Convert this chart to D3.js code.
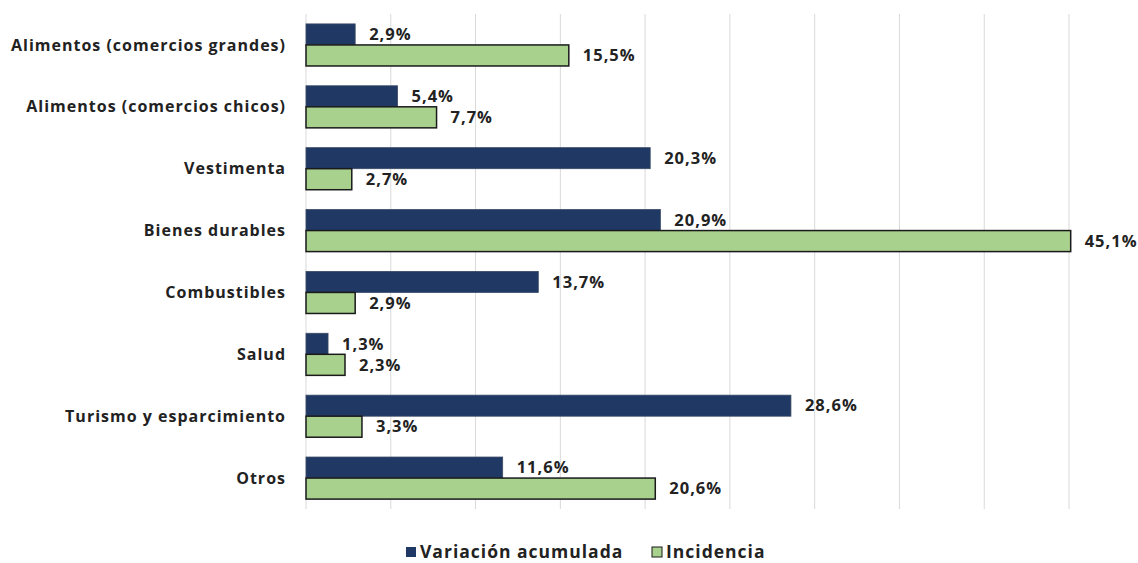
<!DOCTYPE html>
<html>
<head>
<meta charset="utf-8">
<script src="https://cdn.jsdelivr.net/npm/d3@7"></script>
<style>
  body { margin: 0; background: #fff; }
  text { font-family: "Open Sans", Arial, sans-serif; font-weight: bold; fill: #222; letter-spacing: 1px; }
</style>
</head>
<body>
<div id="chart"></div>
<script>
// categories and series values (percent)
var categories = [
  "Alimentos (comercios grandes)",
  "Alimentos (comercios chicos)",
  "Vestimenta",
  "Bienes durables",
  "Combustibles",
  "Salud",
  "Turismo y esparcimiento",
  "Otros"
];
var variacion = [2.9, 5.4, 20.3, 20.9, 13.7, 1.3, 28.6, 11.6];
var incidencia = [15.5, 7.7, 2.7, 45.1, 2.9, 2.3, 3.3, 20.6];
var seriesNames = ["Variación acumulada", "Incidencia"];
var gridTicks = [0, 5, 10, 15, 20, 25, 30, 35, 40, 45];

var W = 1138, H = 563;
var margin = { top: 14, right: 69, bottom: 54, left: 306 };
var width = W - margin.left - margin.right,
  height = H - margin.top - margin.bottom;

var colors = { "Variación acumulada": "#203864", "Incidencia": "#a9d18e" };

var svg = d3.select("#chart").append("svg")
  .attr("width", W).attr("height", H);
var g = svg.append("g")
  .attr("transform", "translate(" + margin.left + "," + margin.top + ")");

var x = d3.scaleLinear().domain([0, 45]).range([0, width]);
var y = d3.scaleBand().domain(categories).range([0, height]).paddingInner(0.32).paddingOuter(0.16);
var ySub = d3.scaleBand().domain(seriesNames).range([0, y.bandwidth()]);

// gridlines
g.selectAll(".grid").data(gridTicks).enter().append("line")
  .attr("x1", function (d) { return x(d); })
  .attr("x2", function (d) { return x(d); })
  .attr("y1", 0).attr("y2", height)
  .attr("stroke", "#d9d9d9").attr("stroke-width", 1);

var data = categories.map(function (c, i) {
  return { cat: c, vals: [
    { s: "Variación acumulada", v: variacion[i] },
    { s: "Incidencia", v: incidencia[i] }
  ] };
});

var groups = g.selectAll(".grp").data(data).enter().append("g")
  .attr("transform", function (d) { return "translate(0," + y(d.cat) + ")"; });

groups.selectAll("rect").data(function (d) { return d.vals; }).enter().append("rect")
  .attr("x", 0)
  .attr("y", function (d) { return ySub(d.s); })
  .attr("width", function (d) { return x(d.v); })
  .attr("height", ySub.bandwidth())
  .attr("fill", function (d) { return colors[d.s]; })
  .attr("stroke", function (d) { return d.s === "Incidencia" ? "#1a1a1a" : "#3a4a66"; })
  .attr("stroke-width", function (d) { return d.s === "Incidencia" ? 1.5 : 0.8; });

// value labels
groups.selectAll(".val").data(function (d) { return d.vals; }).enter().append("text")
  .attr("x", function (d) { return x(d.v) + 14; })
  .attr("y", function (d) { return ySub(d.s) + ySub.bandwidth() / 2; })
  .attr("dy", "0.35em")
  .style("font-size", "16.5px")
  .text(function (d) { return d.v.toFixed(1).replace(".", ",") + "%"; });

// category labels
g.selectAll(".cat").data(categories).enter().append("text")
  .attr("x", -20)
  .attr("y", function (d) { return y(d) + y.bandwidth() / 2; })
  .attr("dy", "0.35em")
  .attr("text-anchor", "end")
  .style("font-size", "16px")
  .text(function (d) { return d; });

// legend
var legend = svg.append("g").attr("transform", "translate(0," + 552 + ")");
var legendX = [406, 652];
seriesNames.forEach(function (s, i) {
  legend.append("rect")
    .attr("x", legendX[i]).attr("y", -5)
    .attr("width", 10).attr("height", 10)
    .attr("fill", colors[s])
    .attr("stroke", i === 1 ? "#1a1a1a" : "none");
  legend.append("text")
    .attr("x", legendX[i] + 14).attr("y", 0)
    .attr("dy", "0.35em")
    .style("font-size", "17.5px")
    .text(s);
});
</script>
</body>
</html>
